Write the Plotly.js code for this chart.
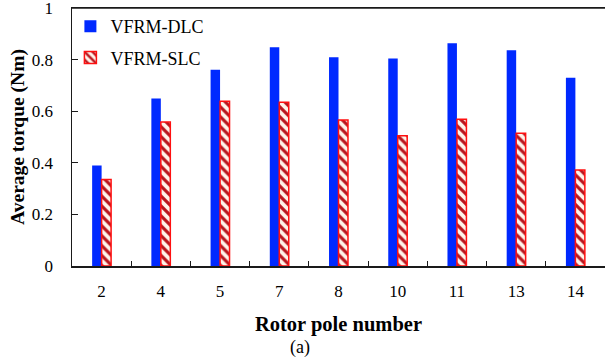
<!DOCTYPE html>
<html>
<head>
<meta charset="utf-8">
<script src="https://cdn.plot.ly/plotly-3.0.1.min.js"></script>
<style>html,body{margin:0;padding:0;background:#fff}#chart{width:605px;height:363px}</style>
</head>
<body>
<div id="chart"></div>
<script>
var categories = ['2', '4', '5', '7', '8', '10', '11', '13', '14'];
var dlcValues = [0.390, 0.649, 0.761, 0.848, 0.809, 0.804, 0.863, 0.836, 0.730];
var slcValues = [0.335, 0.558, 0.639, 0.635, 0.566, 0.505, 0.569, 0.515, 0.372];
var yTickVals = [0, 0.2, 0.4, 0.6, 0.8, 1];
var yTickText = ['0', '0.2', '0.4', '0.6', '0.8', '1'];

var serif = 'Liberation Serif, Times New Roman, serif';

var traces = [
  {
    type: 'bar', name: 'VFRM-DLC', x: categories, y: dlcValues,
    legendgroup: 'a',
    marker: {color: '#0029ff', line: {color: '#0029ff', width: 0}}
  },
  {
    type: 'bar', name: 'VFRM-SLC', x: categories, y: slcValues,
    legendgroup: 'b',
    marker: {
      color: '#fff4ea',
      line: {color: '#ff1010', width: 1.5},
      pattern: {shape: '\\', fgcolor: '#b8161e', bgcolor: '#fff4ea', size: 7, solidity: 0.45}
    }
  }
];

var layout = {
  width: 605, height: 363,
  margin: {l: 72, r: 0, t: 8, b: 97, pad: 0},
  paper_bgcolor: '#fff', plot_bgcolor: '#fff',
  font: {family: serif, size: 17, color: '#000'},
  barmode: 'group', bargap: 0.68, bargroupgap: 0,
  showlegend: true,
  legend: {
    x: -0.003, y: 1.0, xanchor: 'left', yanchor: 'top',
    font: {family: serif, size: 18, color: '#000'},
    traceorder: 'grouped', tracegroupgap: 5,
    bgcolor: 'rgba(0,0,0,0)'
  },
  xaxis: {
    type: 'category',
    showline: true, linecolor: '#1a1a1a', linewidth: 1.5, mirror: true,
    ticks: 'inside', ticklen: 5, tickcolor: '#1a1a1a', tickwidth: 1.2,
    tickson: 'boundaries',
    showgrid: false, zeroline: false,
    ticklabelstandoff: 9,
    tickfont: {family: serif, size: 17},
    title: {text: '<b>Rotor pole number</b>', font: {family: serif, size: 20.5}, standoff: 16}
  },
  yaxis: {
    range: [0, 1],
    tickvals: yTickVals, ticktext: yTickText,
    showline: true, linecolor: '#1a1a1a', linewidth: 1.5,
    ticks: 'inside', ticklen: 6, tickcolor: '#1a1a1a', tickwidth: 1.2,
    showgrid: false, zeroline: false,
    ticklabelstandoff: 14,
    ticklabeloverflow: 'allow',
    tickfont: {family: serif, size: 17},
    title: {text: '<b>Average torque (Nm)</b>', font: {family: serif, size: 19.5}, standoff: 2}
  },
  shapes: [
    {type: 'line', xref: 'paper', yref: 'paper', x0: 0, x1: 1, y0: 1, y1: 1, layer: 'above',
     line: {color: '#1a1a1a', width: 1.5}}
  ],
  annotations: [
    {text: '(a)', xref: 'paper', yref: 'paper', x: 0.427, y: -0.315, xanchor: 'center', yanchor: 'middle',
     showarrow: false, font: {family: serif, size: 18}}
  ]
};

Plotly.newPlot('chart', traces, layout, {displayModeBar: false, staticPlot: true});
</script>
</body>
</html>
